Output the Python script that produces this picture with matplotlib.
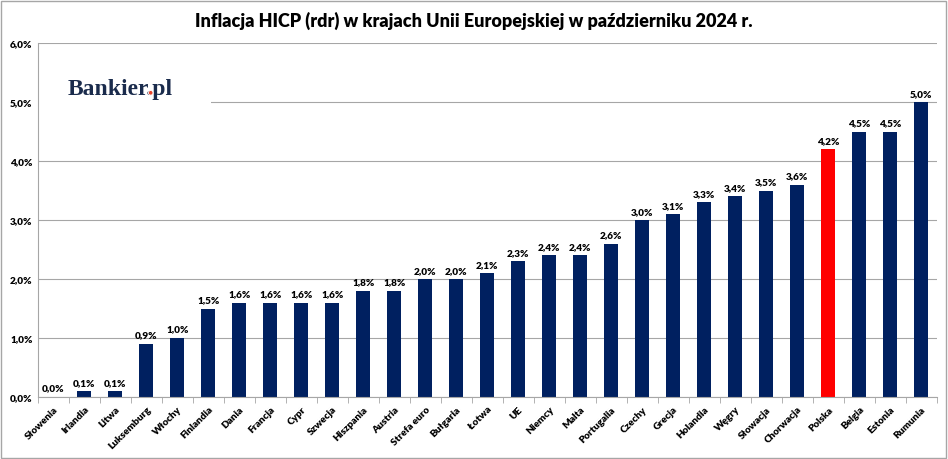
import matplotlib
matplotlib.use("Agg")
import matplotlib.pyplot as plt
from matplotlib.patches import Rectangle, Circle

countries = ["Słowenia", "Irlandia", "Litwa", "Luksemburg", "Włochy", "Finlandia",
             "Dania", "Francja", "Cypr", "Szwecja", "Hiszpania", "Austria",
             "Strefa euro", "Bułgaria", "Łotwa", "UE", "Niemcy", "Malta",
             "Portugalia", "Czechy", "Grecja", "Holandia", "Węgry", "Słowacja",
             "Chorwacja", "Polska", "Belgia", "Estonia", "Rumunia"]
inflation = [0.0, 0.1, 0.1, 0.9, 1.0, 1.5, 1.6, 1.6, 1.6, 1.6, 1.8, 1.8, 2.0, 2.0,
             2.1, 2.3, 2.4, 2.4, 2.6, 3.0, 3.1, 3.3, 3.4, 3.5, 3.6, 4.2, 4.5, 4.5, 5.0]
highlight = "Polska"
y_ticks = [0, 1, 2, 3, 4, 5, 6]

plt.rcParams['font.family'] = ['Lato', 'DejaVu Sans']

navy = "#002060"
colors = ["#ff0000" if c == highlight else navy for c in countries]

fig = plt.figure(figsize=(9.48, 4.59), dpi=100)
ax = fig.add_axes([0.040, 0.135, 0.948, 0.771])

x = range(len(countries))
bars = ax.bar(x, inflation, width=0.45, color=colors, zorder=3)
for xi, v in zip(x, inflation):
    ax.text(xi, v + 0.06, f"{v:.1f}%".replace(".", ","), ha="center", va="bottom",
            fontsize=7.2, fontweight="heavy", zorder=4)

ax.set_xlim(-0.5, len(countries) - 0.5)
ax.set_ylim(0, 6)
ax.set_yticks(y_ticks)
ax.set_yticklabels([f"{t:.1f}%".replace(".", ",") for t in y_ticks], fontsize=7.2, fontweight="heavy")
ax.set_xticks(list(x))
ax.set_xticklabels(countries, rotation=45, ha="right", rotation_mode="anchor",
                   fontsize=7.2, fontweight="heavy")
ax.tick_params(axis="x", which="major", length=0, pad=6)
ax.set_xticks([i + 0.5 for i in range(-1, len(countries))], minor=True)
ax.tick_params(axis="x", which="minor", length=4, color="#a6a6a6")
ax.tick_params(axis="y", length=0, pad=4)
ax.grid(axis="y", color="#a6a6a6", linewidth=0.8, zorder=0)
for s in ["top", "right"]:
    ax.spines[s].set_visible(False)
for s in ["left", "bottom"]:
    ax.spines[s].set_color("#a6a6a6")
    ax.spines[s].set_zorder(5)

# logo: white background hides the grid line, red dot painted over the "."
ax.add_patch(Rectangle((-0.5, 4.6), 5.6, 0.9, facecolor="white", edgecolor="none", zorder=2))
logo_kw = dict(family="Liberation Serif", fontweight="bold", fontsize=17)
logo = fig.text(0.071, 0.793, "Bankier.pl", color="#1a2b4c", **logo_kw)
fig.canvas.draw()
r = fig.canvas.get_renderer()
tmp = fig.text(0.071, 0.793, "Bankier", **logo_kw)
e1 = tmp.get_window_extent(r)
tmp.set_text("Bankier.")
e2 = tmp.get_window_extent(r)
tmp.remove()
base = logo.get_window_extent(r)
dot_x = (e1.x1 + e2.x1) / 2
dot_y = 0.793 * fig.bbox.height + 2.2
fig.patches.append(Circle((dot_x, dot_y), 2.3, transform=None,
                          facecolor="#e8452c", edgecolor="white", linewidth=0.6, zorder=10))

fig.suptitle("Inflacja HICP (rdr) w krajach Unii Europejskiej w październiku 2024 r.",
             y=0.975, fontsize=13, fontweight="heavy")
fig.patches.append(Rectangle((0.001, 0.002), 0.997, 0.996, transform=fig.transFigure,
                             fill=False, edgecolor="#a6a6a6", linewidth=1))

fig.savefig("out.png", dpi=100)
